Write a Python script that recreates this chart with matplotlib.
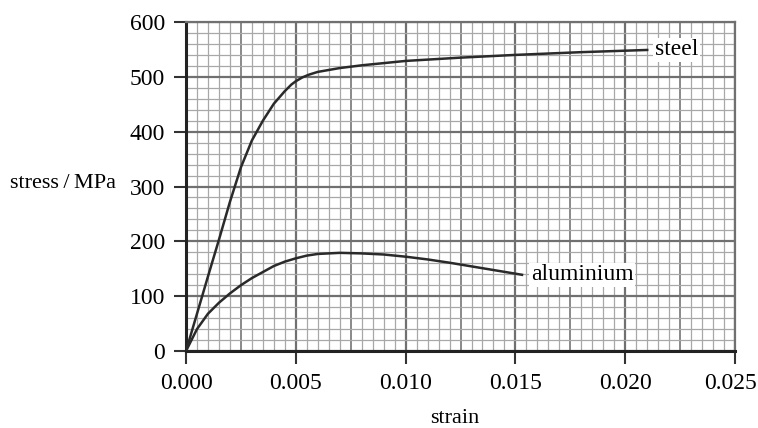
import matplotlib.pyplot as plt
import matplotlib.transforms as mtransforms
import numpy as np

# values
steel_strain = [0, 0.0005, 0.001, 0.0015, 0.002, 0.0025, 0.003, 0.0035, 0.004, 0.0045,
                0.0048, 0.005, 0.0053, 0.0056, 0.006, 0.007, 0.008, 0.010, 0.0125, 0.015,
                0.018, 0.021]
steel_stress = [0, 68, 136, 203, 272, 335, 384, 420, 451, 474,
                486, 492, 499, 504, 509, 516, 521, 529, 535, 540,
                545, 549]

alu_strain = [0, 0.0005, 0.001, 0.0015, 0.002, 0.0025, 0.003, 0.0035, 0.004, 0.0045,
              0.005, 0.0055, 0.006, 0.007, 0.008, 0.009, 0.010, 0.011, 0.012, 0.0135,
              0.0153]
alu_stress = [0, 40, 68, 88, 105, 120, 133, 144, 155, 163,
              169, 174, 177, 179, 178, 176, 172, 167, 161, 151,
              139]

x_ticks = [0.000, 0.005, 0.010, 0.015, 0.020, 0.025]
y_ticks = [0, 100, 200, 300, 400, 500, 600]

plt.rcParams['font.family'] = ['Liberation Serif', 'DejaVu Serif']

fig = plt.figure(figsize=(7.58, 4.28), dpi=100)
ax = fig.add_axes([0.2454, 0.1799, 0.7243, 0.7687])

# graph paper
for x in np.arange(0, 0.02501, 0.0005):
    k = round(x / 0.0005)
    if k % 10 == 0:
        ax.axvline(x, color='#707070', lw=1.6, zorder=1)
    elif k % 5 == 0:
        ax.axvline(x, color='#808080', lw=1.3, zorder=1)
    else:
        ax.axvline(x, color='#a8a8a8', lw=0.9, zorder=1)
for y in np.arange(0, 601, 20):
    if y % 100 == 0:
        ax.axhline(y, color='#707070', lw=1.6, zorder=1)
    else:
        ax.axhline(y, color='#a8a8a8', lw=0.9, zorder=1)

ax.plot(steel_strain, steel_stress, color='#2a2a2a', lw=1.8, zorder=3,
        solid_joinstyle='round')
ax.plot(alu_strain, alu_stress, color='#2a2a2a', lw=1.8, zorder=3,
        solid_joinstyle='round')

ax.text(0.02135, 549, 'steel', fontsize=17, va='center', ha='left', zorder=4,
        bbox=dict(facecolor='white', edgecolor='none', pad=1))
ax.text(0.0157, 139, 'aluminium', fontsize=17, va='center', ha='left', zorder=4,
        bbox=dict(facecolor='white', edgecolor='none', pad=1))

ax.set_xlim(0, 0.025)
ax.set_ylim(0, 600)
ax.set_xticks(x_ticks)
ax.set_xticklabels([f'{v:.3f}' for v in x_ticks])
ax.set_yticks(y_ticks)
ax.tick_params(labelsize=17, length=9, width=1.5, color='#333333')
ax.tick_params(axis='x', pad=7)
ax.tick_params(axis='y', pad=6)

# last x label sits a little left of its tick
lab = ax.get_xticklabels()[-1]
lab.set_transform(lab.get_transform() + mtransforms.ScaledTranslation(-5 / 100, 0, fig.dpi_scale_trans))

for s in ['left', 'bottom']:
    ax.spines[s].set_linewidth(2.2)
    ax.spines[s].set_color('#222222')
for s in ['top', 'right']:
    ax.spines[s].set_linewidth(1.6)
    ax.spines[s].set_color('#707070')

ax.set_xlabel('strain', fontsize=16)
ax.xaxis.set_label_coords(0.49, -0.175)
ax.set_ylabel('stress\u2009/\u2009MPa', fontsize=16, rotation=0, ha='right', va='center')
ax.yaxis.set_label_coords(-0.128, 0.51)

fig.savefig('out.png', dpi=100)
